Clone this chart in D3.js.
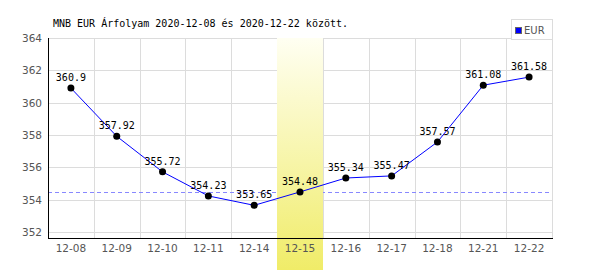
<!DOCTYPE html>
<html>
<head>
<meta charset="utf-8">
<script src="https://cdn.jsdelivr.net/npm/d3@7"></script>
<style>
  body { margin: 0; background: #fff; }
  svg { display: block; }
</style>
</head>
<body>
<div id="chart"></div>
<script>
const dates = ['12-08', '12-09', '12-10', '12-11', '12-14', '12-15', '12-16', '12-17', '12-18', '12-21', '12-22'];
const rates = [360.9, 357.92, 355.72, 354.23, 353.65, 354.48, 355.34, 355.47, 357.57, 361.08, 361.58];
const rateLabels = ['360.9', '357.92', '355.72', '354.23', '353.65', '354.48', '355.34', '355.47', '357.57', '361.08', '361.58'];
const yTicks = [352, 354, 356, 358, 360, 362, 364];
const highlightDate = '12-15';
const refValue = 354.48;
const title = 'MNB EUR Árfolyam 2020-12-08 és 2020-12-22 között.';
const seriesName = 'EUR';

const w = 600;
const h = 270;
const plotLeft = 48, plotRight = 552, plotTop = 38, axisY = 238;

const svg = d3.select('#chart')
  .append('svg')
  .attr('width', w)
  .attr('height', h);

const x = d3.scaleBand()
  .domain(dates)
  .range([plotLeft, plotRight]);

const y = d3.scaleLinear()
  .domain([352, 364])
  .range([232, plotTop]);

// gradient for highlighted day
const grad = svg.append('defs').append('linearGradient')
  .attr('id', 'hl')
  .attr('x1', 0).attr('y1', 0).attr('x2', 0).attr('y2', 1);
grad.append('stop').attr('offset', '0%').attr('stop-color', '#fffff2');
grad.append('stop').attr('offset', '100%').attr('stop-color', '#f0ec68');

// grid
svg.append('g')
  .selectAll('line')
  .data(yTicks)
  .join('line')
  .attr('x1', plotLeft).attr('x2', plotRight)
  .attr('y1', d => Math.round(y(d)) + 0.5)
  .attr('y2', d => Math.round(y(d)) + 0.5)
  .attr('stroke', '#dcdcdc');

const vx = dates.map(d => x(d)).concat([plotRight]);
svg.append('g')
  .selectAll('line')
  .data(vx.slice(1))
  .join('line')
  .attr('x1', d => Math.round(d) + 0.5).attr('x2', d => Math.round(d) + 0.5)
  .attr('y1', plotTop).attr('y2', axisY)
  .attr('stroke', '#dcdcdc');

// reference line
svg.append('line')
  .attr('x1', plotLeft).attr('x2', plotRight)
  .attr('y1', Math.round(y(refValue)) + 0.5)
  .attr('y2', Math.round(y(refValue)) + 0.5)
  .attr('stroke', '#8888ff')
  .attr('stroke-dasharray', '4,3');

// highlight band
svg.append('rect')
  .attr('x', Math.round(x(highlightDate)))
  .attr('y', plotTop)
  .attr('width', Math.round(x.bandwidth()))
  .attr('height', h - plotTop)
  .attr('fill', 'url(#hl)');

// axes lines
svg.append('line')
  .attr('x1', plotLeft + 0.5).attr('x2', plotLeft + 0.5)
  .attr('y1', plotTop).attr('y2', axisY + 1)
  .attr('stroke', '#000');
svg.append('line')
  .attr('x1', plotLeft).attr('x2', plotRight + 1)
  .attr('y1', axisY + 0.5).attr('y2', axisY + 0.5)
  .attr('stroke', '#000');

// tick labels
svg.append('g')
  .selectAll('text')
  .data(yTicks)
  .join('text')
  .attr('x', 42)
  .attr('y', d => y(d) + 4)
  .attr('text-anchor', 'end')
  .attr('font-family', 'DejaVu Sans, sans-serif')
  .attr('font-size', 10.5)
  .attr('fill', '#555')
  .text(d => d);

svg.append('g')
  .selectAll('text')
  .data(dates)
  .join('text')
  .attr('x', d => x(d) + x.bandwidth() / 2)
  .attr('y', 252)
  .attr('text-anchor', 'middle')
  .attr('font-family', 'DejaVu Sans, sans-serif')
  .attr('font-size', 10.5)
  .attr('fill', '#555')
  .text(d => d);

// series line
const line = d3.line()
  .x((d, i) => x(dates[i]) + x.bandwidth() / 2)
  .y(d => y(d));

svg.append('path')
  .datum(rates)
  .attr('d', line)
  .attr('fill', 'none')
  .attr('stroke', '#0000ff')
  .attr('stroke-width', 1);

svg.append('g')
  .selectAll('circle')
  .data(rates)
  .join('circle')
  .attr('cx', (d, i) => x(dates[i]) + x.bandwidth() / 2)
  .attr('cy', d => y(d))
  .attr('r', 3.5)
  .attr('fill', '#000');

svg.append('g')
  .selectAll('text')
  .data(rates)
  .join('text')
  .attr('x', (d, i) => x(dates[i]) + x.bandwidth() / 2)
  .attr('y', d => y(d) - 7)
  .attr('text-anchor', 'middle')
  .attr('font-family', 'DejaVu Sans Mono, monospace')
  .attr('font-size', 10)
  .attr('fill', '#000')
  .text((d, i) => rateLabels[i]);

// title
svg.append('text')
  .attr('x', 53)
  .attr('y', 27)
  .attr('font-family', 'DejaVu Sans Mono, monospace')
  .attr('font-size', 10)
  .attr('fill', '#000')
  .text(title);

// legend
svg.append('rect')
  .attr('x', 511.5).attr('y', 19.5)
  .attr('width', 41).attr('height', 20)
  .attr('fill', '#fff')
  .attr('stroke', '#dcdcdc');
svg.append('rect')
  .attr('x', 515.5).attr('y', 27.5)
  .attr('width', 6).attr('height', 6)
  .attr('fill', '#0000ff')
  .attr('stroke', '#666');
svg.append('text')
  .attr('x', 524)
  .attr('y', 34)
  .attr('font-family', 'DejaVu Sans, sans-serif')
  .attr('font-size', 10)
  .attr('fill', '#555')
  .text(seriesName);
</script>
</body>
</html>
